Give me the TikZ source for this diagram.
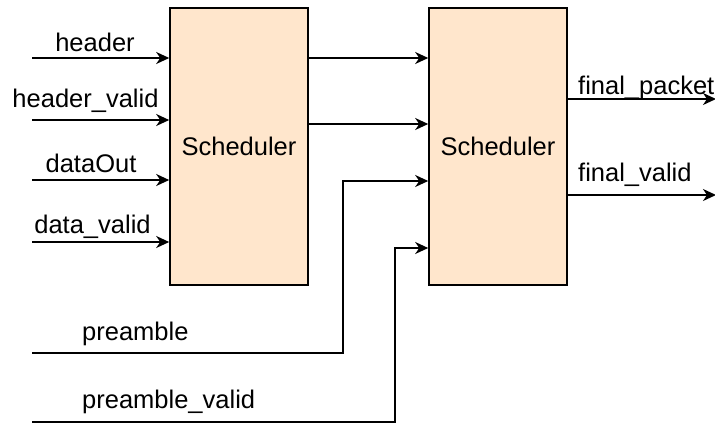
\documentclass[tikz,border=0pt]{standalone}
\usepackage{fontspec}
\setmainfont{Liberation Sans}
\usetikzlibrary{arrows.meta}
\definecolor{peach}{HTML}{FFE6CC}
\begin{document}
\begin{tikzpicture}[x=1pt,y=-1pt,
  block/.style={draw=black, fill=peach, line width=1.6pt, minimum width=138pt,
    minimum height=277pt, inner sep=0pt, font=\fontsize{25.5}{30}\selectfont},
  sig/.style={line width=1.6pt, -{Stealth[length=13pt,width=12pt,inset=4pt]}},
  lbl/.style={font=\fontsize{25.5}{30}\selectfont, inner sep=0pt, anchor=base},
  lbll/.style={lbl, anchor=base west}]
\useasboundingbox (0,0) rectangle (715,423);

% the two scheduler blocks
\node[block] (s1) at (239,146.5) {Scheduler};
\node[block] (s2) at (498,146.5) {Scheduler};

% free ends of the input wires
\coordinate (i1) at (32,58);
\coordinate (i2) at (32,120);
\coordinate (i3) at (32,180);
\coordinate (i4) at (32,242);
\coordinate (p0) at (32,353);
\coordinate (v0) at (32,422);
\coordinate (pa) at (343,181);
\coordinate (va) at (395,248);
\coordinate (o1) at (716,99);
\coordinate (o2) at (716,195);

% inputs of the first scheduler
\draw[sig] (i1) -- (i1 -| s1.west);
\draw[sig] (i2) -- (i2 -| s1.west);
\draw[sig] (i3) -- (i3 -| s1.west);
\draw[sig] (i4) -- (i4 -| s1.west);

% first scheduler feeding the second
\draw[sig] (s1.east |- 0,58) -- (s2.west |- 0,58);
\draw[sig] (s1.east |- 0,124) -- (s2.west |- 0,124);

% preamble wires routed up into the second scheduler
\draw[sig] (p0) -| (pa) -- (pa -| s2.west);
\draw[sig] (v0) -| (va) -- (va -| s2.west);

% outputs
\draw[sig] (s2.east |- o1) -- (o1);
\draw[sig] (s2.east |- o2) -- (o2);

% signal names
\node[lbl] (lh) at (95,51) {header};
\node[lbl] (lhv) at (85.5,107) {header\_valid};
\node[lbl] (ld) at (91,172) {dataOut};
\node[lbl] (ldv) at (92.5,233) {data\_valid};
\node[lbll] (lp) at (82,340) {preamble};
\node[lbll] (lpv) at (82,408) {preamble\_valid};
\node[lbll] (lfp) at (578,94) {final\_packet};
\node[lbll] (lfv) at (578,181.5) {final\_valid};
\end{tikzpicture}
\end{document}
